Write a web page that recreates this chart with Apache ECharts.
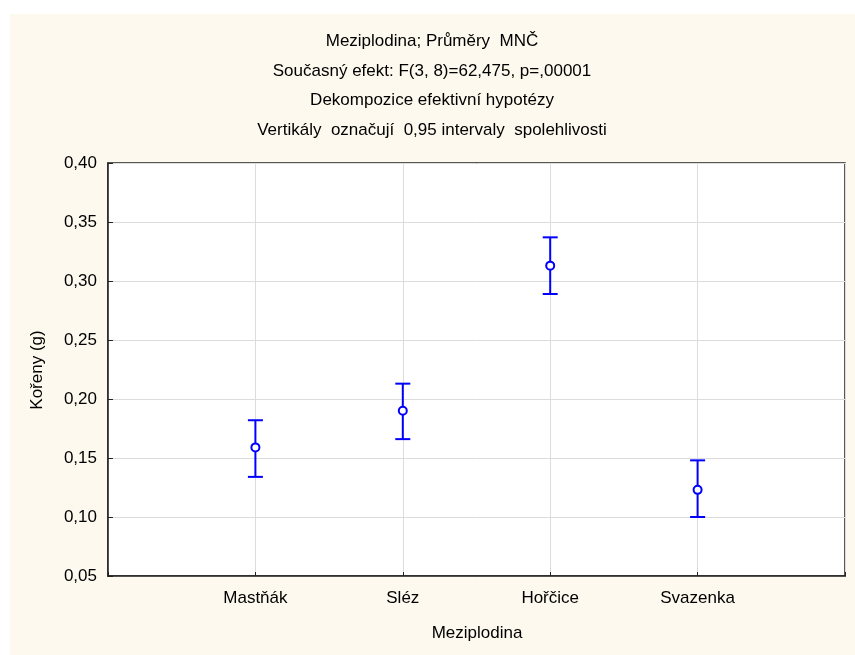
<!DOCTYPE html>
<html>
<head>
<meta charset="utf-8">
<script src="https://cdn.jsdelivr.net/npm/echarts@6/dist/echarts.min.js"></script>
<style>
  html, body { margin: 0; padding: 0; background: #ffffff; }
  #chart { width: 855px; height: 655px; }
</style>
</head>
<body>
<div id="chart"></div>
<script>
// Means of root mass by catch crop with 0.95 confidence intervals
var categories = ['Mastňák', 'Sléz', 'Hořčice', 'Svazenka'];
var means = [0.159, 0.190, 0.313, 0.123];
var lowerCI = [0.134, 0.166, 0.289, 0.100];
var upperCI = [0.182, 0.213, 0.337, 0.148];
var yTicks = [0.05, 0.10, 0.15, 0.20, 0.25, 0.30, 0.35, 0.40];
var titleLines = [
  'Meziplodina; Průměry  MNČ',
  'Současný efekt: F(3, 8)=62,475, p=,00001',
  'Dekompozice efektivní hypotézy',
  'Vertikály  označují  0,95 intervaly  spolehlivosti'
];

var FONT = 'Liberation Sans, Arial, sans-serif';
var FS = 17;
var BLUE = '#0000ff';

// category k sits at position k+1 on a 0..5 scale
var meanData = means.map(function (v, i) { return [i + 1, v]; });
var ciData = means.map(function (v, i) { return [i + 1, lowerCI[i], upperCI[i]]; });

var chart = echarts.init(document.getElementById('chart'), null, { renderer: 'canvas' });

chart.setOption({
  animation: false,
  backgroundColor: '#ffffff',
  graphic: [
    {
      type: 'rect', z: -10, silent: true,
      shape: { x: 10, y: 14, width: 845, height: 641 },
      style: { fill: '#fef9ee' }
    },
    {
      type: 'text', z: 10,
      position: [432, 27],
      style: {
        text: titleLines.join('\n'),
        font: FS + 'px ' + FONT,
        fill: '#000',
        textAlign: 'center',
        lineHeight: 29.5
      }
    },
    {
      type: 'text', z: 10,
      position: [37, 370], rotation: Math.PI / 2,
      style: {
        text: 'Kořeny (g)', font: FS + 'px ' + FONT, fill: '#000',
        textAlign: 'center', textVerticalAlign: 'middle'
      }
    },
    {
      type: 'text', z: 10,
      position: [477, 633],
      style: {
        text: 'Meziplodina', font: FS + 'px ' + FONT, fill: '#000',
        textAlign: 'center', textVerticalAlign: 'middle'
      }
    }
  ],
  grid: {
    left: 108, right: 10, top: 163, bottom: 79,
    show: true, backgroundColor: '#ffffff',
    borderColor: '#222', borderWidth: 1.5
  },
  xAxis: {
    type: 'value', min: 0, max: 5, interval: 1,
    axisLine: { show: true, lineStyle: { color: '#222', width: 1.5 } },
    axisTick: { show: true, inside: true, length: 4, lineStyle: { color: '#222' } },
    axisLabel: {
      margin: 14, color: '#000', fontFamily: FONT, fontSize: FS,
      formatter: function (v) { return (v >= 1 && v <= 4) ? categories[v - 1] : ''; }
    },
    splitLine: { show: true, lineStyle: { color: '#dcdcdc', width: 1 } }
  },
  yAxis: {
    type: 'value', min: yTicks[0], max: yTicks[yTicks.length - 1], interval: 0.05,
    axisLine: { show: true, lineStyle: { color: '#222', width: 1.5 } },
    axisTick: { show: true, inside: true, length: 5, lineStyle: { color: '#222' } },
    axisLabel: {
      margin: 11, color: '#000', fontFamily: FONT, fontSize: FS,
      formatter: function (v) { return v.toFixed(2).replace('.', ','); }
    },
    splitLine: { show: true, lineStyle: { color: '#dcdcdc', width: 1 } }
  },
  series: [
    {
      type: 'custom',
      data: ciData,
      encode: { x: 0, y: [1, 2] },
      z: 5,
      renderItem: function (params, api) {
        var x = api.value(0);
        var lo = api.coord([x, api.value(1)]);
        var hi = api.coord([x, api.value(2)]);
        var half = 7.5;
        var style = { stroke: BLUE, lineWidth: 2, fill: null };
        return {
          type: 'group',
          children: [
            { type: 'line', shape: { x1: lo[0], y1: lo[1], x2: hi[0], y2: hi[1] }, style: style },
            { type: 'line', shape: { x1: hi[0] - half, y1: hi[1], x2: hi[0] + half, y2: hi[1] }, style: style },
            { type: 'line', shape: { x1: lo[0] - half, y1: lo[1], x2: lo[0] + half, y2: lo[1] }, style: style }
          ]
        };
      }
    },
    {
      type: 'scatter',
      data: meanData,
      z: 6,
      symbol: 'circle',
      symbolSize: 8,
      itemStyle: { color: '#ffffff', borderColor: BLUE, borderWidth: 2, opacity: 1 }
    }
  ]
});
</script>
</body>
</html>
